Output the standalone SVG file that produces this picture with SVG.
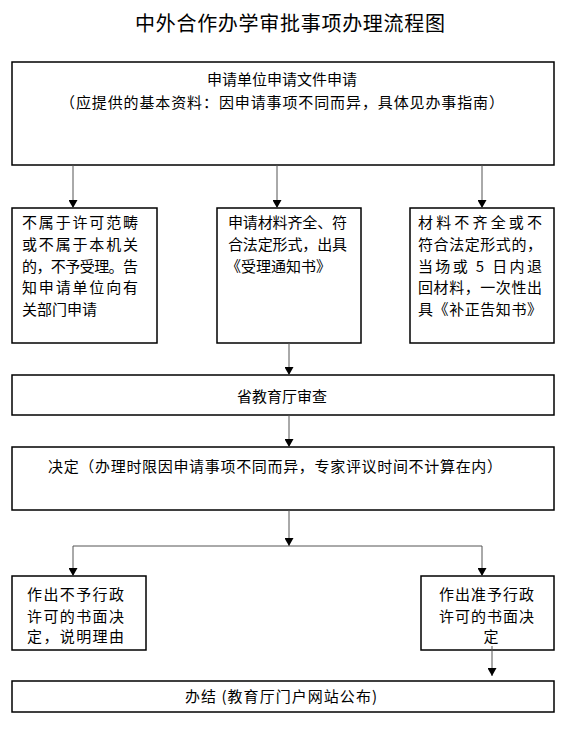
<svg xmlns="http://www.w3.org/2000/svg" width="562" height="730" viewBox="0 0 562 730">
<style>
text{font-family:"Noto Sans CJK SC","Liberation Sans",sans-serif;font-size:15px;fill:#000}
.title{font-size:20px}
.box{fill:#fff;stroke:#000;stroke-width:1.5}
.conn{fill:none;stroke:#555;stroke-width:1}
.mid{text-anchor:middle}
</style>
<defs>
<marker id="ah" viewBox="0 0 8 9" refX="8" refY="4.5" markerWidth="8" markerHeight="9" markerUnits="userSpaceOnUse" orient="auto">
<path d="M0,0 L8,4.5 L0,9 Z" fill="#000"/>
</marker>
</defs>
<rect width="562" height="730" fill="#fff"/>
<text class="title" x="135" y="31" textLength="310" lengthAdjust="spacing">中外合作办学审批事项办理流程图</text>

<g id="n1">
<rect class="box" x="12" y="62" width="542" height="103"/>
<text class="mid" x="282" y="85">申请单位申请文件申请</text>
<text x="60" y="108" textLength="444" lengthAdjust="spacing">（应提供的基本资料：因申请事项不同而异，具体见办事指南）</text>
</g>

<g id="n2">
<rect class="box" x="12" y="208" width="145" height="135"/>
<text x="22" y="228" textLength="116" lengthAdjust="spacing">不属于许可范畴</text>
<text x="22" y="250" textLength="116" lengthAdjust="spacing">或不属于本机关</text>
<text x="22" y="272" textLength="116" lengthAdjust="spacing">的，不予受理。告</text>
<text x="22" y="293" textLength="116" lengthAdjust="spacing">知申请单位向有</text>
<text x="22" y="315">关部门申请</text>
</g>

<g id="n3">
<rect class="box" x="217" y="208" width="144" height="135"/>
<text x="228" y="228" textLength="119" lengthAdjust="spacing">申请材料齐全、符</text>
<text x="228" y="250" textLength="119" lengthAdjust="spacing">合法定形式，出具</text>
<text x="226" y="272">《受理通知书》</text>
</g>

<g id="n4">
<rect class="box" x="410" y="208" width="144" height="135"/>
<text x="418" y="228" textLength="124" lengthAdjust="spacing">材料不齐全或不</text>
<text x="418" y="250" textLength="124" lengthAdjust="spacing">符合法定形式的，</text>
<text x="418" y="272" textLength="124" lengthAdjust="spacing">当场或 5 日内退</text>
<text x="418" y="293" textLength="124" lengthAdjust="spacing">回材料，一次性出</text>
<text x="418" y="315" textLength="124" lengthAdjust="spacing">具《补正告知书》</text>
</g>

<g id="n5">
<rect class="box" x="12" y="375" width="542" height="40"/>
<text class="mid" x="282" y="402">省教育厅审查</text>
</g>

<g id="n6">
<rect class="box" x="12" y="447" width="542" height="63"/>
<text x="48" y="472" textLength="454" lengthAdjust="spacing">决定（办理时限因申请事项不同而异，专家评议时间不计算在内）</text>
</g>

<g id="n7">
<rect class="box" x="12" y="576" width="134" height="74"/>
<text x="27" y="600" textLength="97" lengthAdjust="spacing">作出不予行政</text>
<text x="27" y="622" textLength="97" lengthAdjust="spacing">许可的书面决</text>
<text x="27" y="642" textLength="97" lengthAdjust="spacing">定，说明理由</text>
</g>

<g id="n8">
<rect class="box" x="421" y="576" width="133" height="74"/>
<text x="439" y="600" textLength="95" lengthAdjust="spacing">作出准予行政</text>
<text x="439" y="622" textLength="95" lengthAdjust="spacing">许可的书面决</text>
<text class="mid" x="491" y="642">定</text>
</g>

<g id="n9">
<rect class="box" x="12" y="681" width="542" height="31"/>
<text x="185" y="702" textLength="192" lengthAdjust="spacing">办结 (教育厅门户网站公布)</text>
</g>

<g id="connectors">
<line class="conn" x1="73" y1="165" x2="73" y2="208" marker-end="url(#ah)"/>
<line class="conn" x1="277" y1="165" x2="277" y2="208" marker-end="url(#ah)"/>
<line class="conn" x1="482" y1="165" x2="482" y2="208" marker-end="url(#ah)"/>
<line class="conn" x1="289" y1="343" x2="289" y2="375" marker-end="url(#ah)"/>
<line class="conn" x1="289" y1="415" x2="289" y2="447" marker-end="url(#ah)"/>
<line class="conn" x1="289" y1="510" x2="289" y2="546" marker-end="url(#ah)"/>
<line class="conn" x1="73" y1="546" x2="482" y2="546"/>
<line class="conn" x1="73" y1="546" x2="73" y2="576" marker-end="url(#ah)"/>
<line class="conn" x1="482" y1="546" x2="482" y2="576" marker-end="url(#ah)"/>
<line class="conn" x1="492" y1="646" x2="492" y2="676" marker-end="url(#ah)"/>
</g>
</svg>
